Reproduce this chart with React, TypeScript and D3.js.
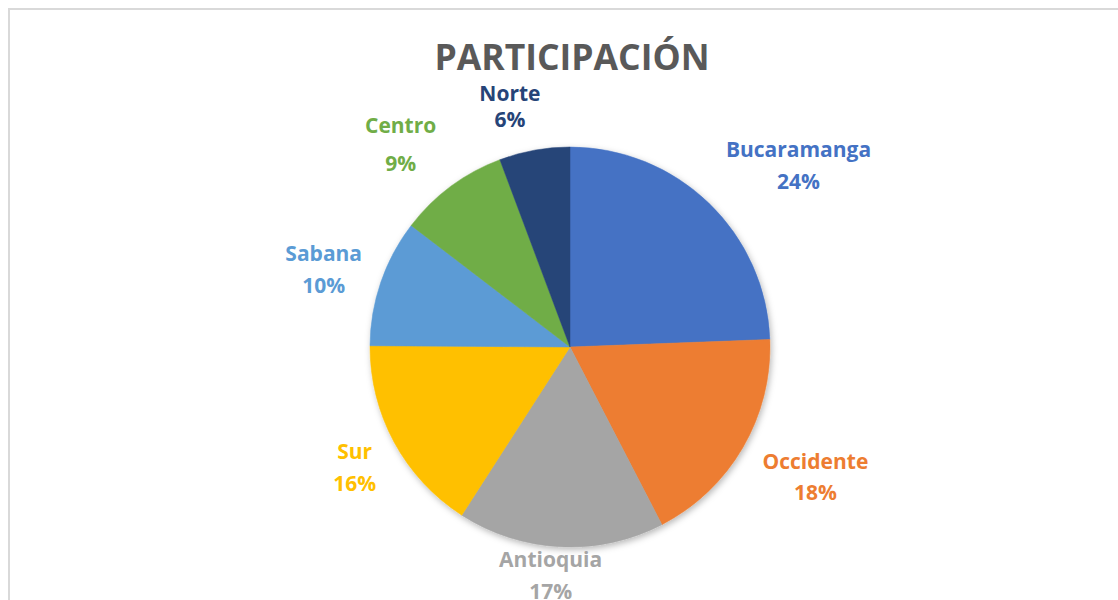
import React from "react";
import * as d3 from "d3";

const regions = ["Bucaramanga", "Occidente", "Antioquia", "Sur", "Sabana", "Centro", "Norte"];
// shares; labels show them rounded
const shares = [24.4, 18.0, 16.7, 16.0, 10.3, 8.9, 5.7];
const colors = ["#4472C4", "#ED7D31", "#A5A5A5", "#FFC000", "#5B9BD5", "#70AD47", "#264478"];

// small per-label tweaks so the Excel-style outside labels land where they do in the original
const labelNudge: [number, number][] = [
	[10, -5],
	[5, 0],
	[-1, -5],
	[-10, -4],
	[-9, 16],
	[-5, -9],
	[-5, -9],
];
const lineGap = [32, 31, 32, 32, 32, 38, 26];

const width = 1118;
const height = 600;
const cx = 570;
const cy = 347;
const radius = 200;

const App = () => {
	const pie = d3
		.pie<number>()
		.sort(null)
		.value((d) => d);
	const arcs = pie(shares);
	const arc = d3.arc<d3.PieArcDatum<number>>().innerRadius(0).outerRadius(radius);
	const clamp = (v: number) => Math.max(-1, Math.min(1, v));

	return (
		<svg
			width={width}
			height={height}
			style={{ position: "absolute", left: 0, top: 0, display: "block", background: "#fff" }}
			fontFamily="'Open Sans', sans-serif"
		>
			<defs>
				<filter id="pieShadow" x="-20%" y="-20%" width="140%" height="140%">
					<feDropShadow dx={1.5} dy={2.5} stdDeviation={3} floodColor="#000" floodOpacity={0.28} />
				</filter>
			</defs>
			<rect x={9} y={9} width={width + 20} height={height + 20} fill="#fff" stroke="#d9d9d9" strokeWidth={2} />
			<text x={572} y={70} textAnchor="middle" fontSize={35.5} fontWeight={700} fill="#595959">
				PARTICIPACIÓN
			</text>
			<g transform={`translate(${cx},${cy})`} filter="url(#pieShadow)">
				{arcs.map((a, i) => (
					<path key={regions[i]} d={arc(a) ?? ""} fill={colors[i]} stroke={colors[i]} strokeWidth={0.5} />
				))}
			</g>
			{arcs.map((a, i) => {
				const mid = (a.startAngle + a.endAngle) / 2;
				const s = Math.sin(mid);
				const c = Math.cos(mid);
				const r = radius + 8;
				const w = Math.max(regions[i].length * 13.5, 45);
				const h = 52;
				const x = cx + r * s + clamp(s * 3) * (w / 2) + labelNudge[i][0];
				const y = cy - r * c + clamp(-c * 3) * (h / 2) + labelNudge[i][1];
				const gap = lineGap[i];
				return (
					<text key={regions[i]} textAnchor="middle" fontSize={21} fontWeight={700} fill={colors[i]}>
						<tspan x={x} y={y - gap / 2 + 7}>
							{regions[i]}
						</tspan>
						<tspan x={x} y={y + gap / 2 + 7}>
							{`${Math.round(shares[i])}%`}
						</tspan>
					</text>
				);
			})}
		</svg>
	);
};

export default App;
